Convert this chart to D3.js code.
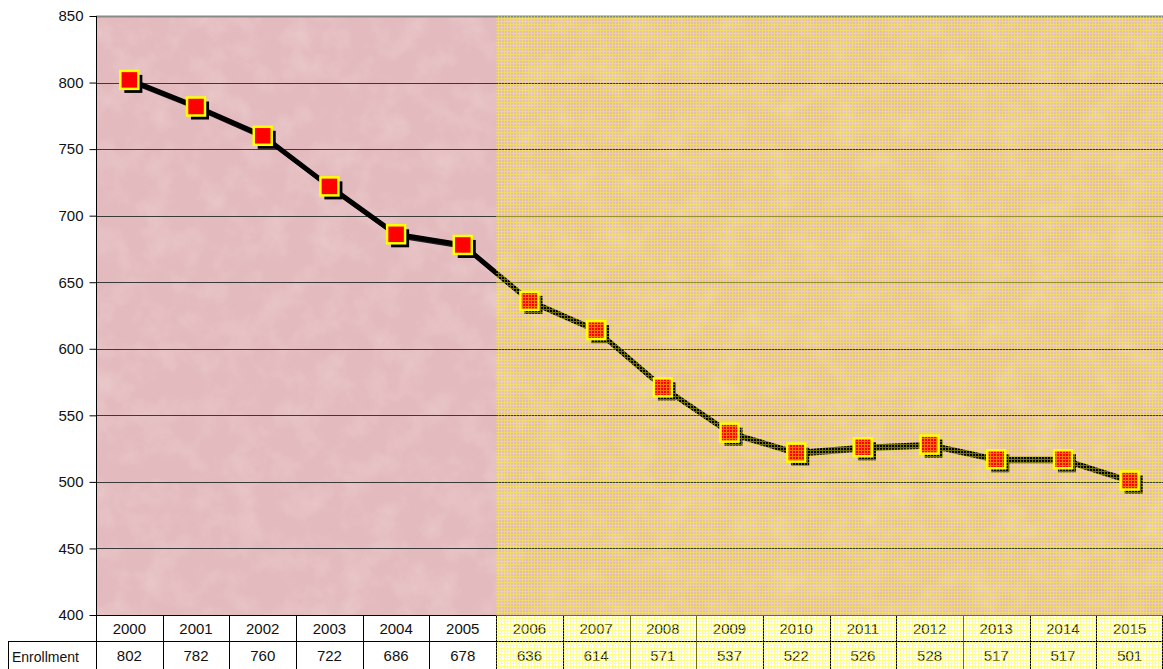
<!DOCTYPE html>
<html>
<head>
<meta charset="utf-8">
<script src="https://cdn.jsdelivr.net/npm/d3@7"></script>
<style>
  body { margin: 0; background: #fff; }
  svg { display: block; font-family: "Liberation Sans", Arial, sans-serif; }
</style>
</head>
<body>
<div id="chart"></div>
<script>
const years = ['2000', '2001', '2002', '2003', '2004', '2005', '2006', '2007',
               '2008', '2009', '2010', '2011', '2012', '2013', '2014', '2015'];
const enrollment = [802, 782, 760, 722, 686, 678, 636, 614, 571, 537, 522, 526, 528, 517, 517, 501];
const yTicks = [400, 450, 500, 550, 600, 650, 700, 750, 800, 850];
const rowLabel = 'Enrollment';
const highlightFrom = '2006';

const width = 1163, height = 669;
const plotL = 96, plotR = 1163, plotT = 16, plotB = 615;
const rowH = 26;

const svg = d3.select('#chart').append('svg')
    .attr('width', width)
    .attr('height', height);

const defs = svg.append('defs');

// mottled paper texture
const tex = defs.append('filter').attr('id', 'paper')
    .attr('x', 0).attr('y', 0).attr('width', '100%').attr('height', '100%');
tex.append('feTurbulence').attr('type', 'fractalNoise')
    .attr('baseFrequency', 0.035).attr('numOctaves', 4).attr('seed', 7).attr('result', 'n');
tex.append('feColorMatrix').attr('in', 'n').attr('type', 'matrix')
    .attr('values', '0 0 0 0 1  0 0 0 0 0.92  0 0 0 0 0.92  1.4 0 0 0 -0.55')
    .attr('result', 'c');
tex.append('feComposite').attr('in', 'c').attr('in2', 'SourceGraphic').attr('operator', 'in');

// yellow checked overlay
const pat = defs.append('pattern').attr('id', 'check')
    .attr('patternUnits', 'userSpaceOnUse')
    .attr('width', 3).attr('height', 3);
pat.append('rect').attr('x', 0).attr('y', 0).attr('width', 3).attr('height', 1)
    .attr('fill', '#ffff00').attr('opacity', 0.45);
pat.append('rect').attr('x', 0).attr('y', 1).attr('width', 1).attr('height', 2)
    .attr('fill', '#ffff00').attr('opacity', 0.45);

const x = d3.scaleBand().domain(years).range([plotL, plotR]);
const y = d3.scaleLinear().domain([400, 850]).range([plotB, plotT]);

// plot background
svg.append('rect')
    .attr('x', plotL).attr('y', plotT)
    .attr('width', plotR - plotL).attr('height', plotB - plotT)
    .attr('fill', '#e3babd');
svg.append('rect')
    .attr('x', plotL).attr('y', plotT)
    .attr('width', plotR - plotL).attr('height', plotB - plotT)
    .attr('fill', '#fff')
    .attr('filter', 'url(#paper)')
    .attr('opacity', 0.3);

// gridlines
svg.append('g')
    .selectAll('line')
    .data(yTicks.filter(d => d > 400))
    .join('line')
    .attr('x1', plotL).attr('x2', plotR)
    .attr('y1', d => Math.round(y(d)) + 0.5)
    .attr('y2', d => Math.round(y(d)) + 0.5)
    .attr('stroke', d => d === 850 ? '#8a8a8a' : '#3a3a3a')
    .attr('stroke-width', d => d === 850 ? 2 : 1);

// y axis
const yAxis = svg.append('g')
    .attr('transform', `translate(${plotL + 0.5},0)`)
    .call(d3.axisLeft(y).tickValues(yTicks).tickSize(7).tickSizeOuter(0).tickPadding(6));
yAxis.select('.domain').remove();
yAxis.selectAll('.tick line').attr('stroke', '#000');
yAxis.selectAll('text').attr('font-size', 15).attr('fill', '#111')
    .attr('font-family', '"Liberation Sans", Arial, sans-serif');

// line with shadow
const line = d3.line()
    .x((d, i) => x(years[i]) + x.bandwidth() / 2)
    .y(d => y(d));

svg.append('path')
    .datum(enrollment)
    .attr('d', line)
    .attr('transform', 'translate(2,2)')
    .attr('fill', 'none')
    .attr('stroke', '#000')
    .attr('stroke-width', 4)
    .attr('opacity', 0.85);
svg.append('path')
    .datum(enrollment)
    .attr('d', line)
    .attr('fill', 'none')
    .attr('stroke', '#000')
    .attr('stroke-width', 5)
    .attr('stroke-linejoin', 'round');

// markers
const ms = 18;
const marks = svg.append('g');
marks.selectAll('rect.shadow')
    .data(enrollment)
    .join('rect')
    .attr('class', 'shadow')
    .attr('x', (d, i) => x(years[i]) + x.bandwidth() / 2 - ms / 2 + 4)
    .attr('y', d => y(d) - ms / 2 + 4)
    .attr('width', ms).attr('height', ms)
    .attr('fill', '#000');
marks.selectAll('rect.mark')
    .data(enrollment)
    .join('rect')
    .attr('class', 'mark')
    .attr('x', (d, i) => x(years[i]) + x.bandwidth() / 2 - ms / 2)
    .attr('y', d => y(d) - ms / 2)
    .attr('width', ms).attr('height', ms)
    .attr('fill', '#ff0000')
    .attr('stroke', '#ffff00')
    .attr('stroke-width', 2.5);

// data table
const table = svg.append('g');
table.append('line')
    .attr('x1', plotL).attr('x2', plotR - 0.5)
    .attr('y1', plotB + 0.5).attr('y2', plotB + 0.5)
    .attr('stroke', '#000');
table.append('line')
    .attr('x1', 8).attr('x2', plotR - 0.5)
    .attr('y1', plotB + rowH + 0.5).attr('y2', plotB + rowH + 0.5)
    .attr('stroke', '#000');
table.append('line')
    .attr('x1', 8.5).attr('x2', 8.5)
    .attr('y1', plotB + rowH).attr('y2', height)
    .attr('stroke', '#000');
table.append('line')
    .attr('x1', plotL + 0.5).attr('x2', plotL + 0.5)
    .attr('y1', plotT).attr('y2', height)
    .attr('stroke', '#000');
table.selectAll('line.col')
    .data(years.slice(1).concat(['end']))
    .join('line')
    .attr('class', 'col')
    .attr('x1', d => d === 'end' ? plotR - 0.5 : Math.round(x(d)) + 0.5)
    .attr('x2', d => d === 'end' ? plotR - 0.5 : Math.round(x(d)) + 0.5)
    .attr('y1', plotB).attr('y2', height)
    .attr('stroke', '#000');

table.selectAll('text.year')
    .data(years)
    .join('text')
    .attr('class', 'year')
    .attr('x', d => x(d) + x.bandwidth() / 2)
    .attr('y', plotB + 19)
    .attr('text-anchor', 'middle')
    .attr('font-size', 15)
    .attr('fill', '#111')
    .text(d => d);
table.selectAll('text.val')
    .data(enrollment)
    .join('text')
    .attr('class', 'val')
    .attr('x', (d, i) => x(years[i]) + x.bandwidth() / 2)
    .attr('y', plotB + rowH + 20)
    .attr('text-anchor', 'middle')
    .attr('font-size', 15)
    .attr('fill', '#111')
    .text(d => d);
table.append('text')
    .attr('x', 12)
    .attr('y', plotB + rowH + 21)
    .attr('font-size', 14)
    .attr('fill', '#111')
    .text(rowLabel);

// yellow checked highlight over the later years
svg.append('rect')
    .attr('x', x(highlightFrom))
    .attr('y', plotT)
    .attr('width', plotR - x(highlightFrom))
    .attr('height', height - plotT)
    .attr('fill', 'url(#check)');
</script>
</body>
</html>
